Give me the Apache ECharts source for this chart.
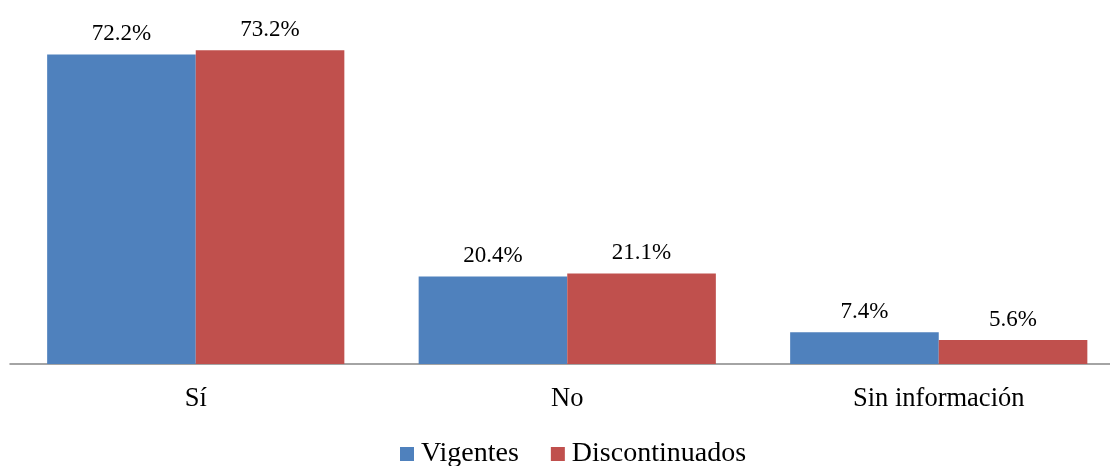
<!DOCTYPE html>
<html><head><meta charset="utf-8">
<script src="https://cdn.jsdelivr.net/npm/echarts@6/dist/echarts.min.js"></script>
<style>html,body{margin:0;padding:0;background:#fff}#c{width:1110px;height:466px}</style>
</head><body><div id="c"></div>
<script>
const categories = ['Sí', 'No', 'Sin información'];
const vigentes = [72.2, 20.4, 7.4];
const discontinuados = [73.2, 21.1, 5.6];
const seriesNames = ['Vigentes', 'Discontinuados'];

const font = '"Liberation Serif", "Times New Roman", serif';
const chart = echarts.init(document.getElementById('c'));
const lbl = {show: true, position: 'top', distance: 9, color: '#000', fontFamily: font, fontSize: 23,
  formatter: p => p.value.toFixed(1) + '%'};
chart.setOption({
  animation: false,
  grid: {left: 10, top: 21, width: 1114.5, height: 343, outerBoundsMode: 'none', containLabel: false},
  legend: {bottom: -7, left: 395, itemWidth: 14, itemHeight: 14, itemGap: 32,
    icon: 'rect',
    textStyle: {fontFamily: font, fontSize: 28, color: '#000', padding: [0,0,0,2]},
    data: seriesNames},
  xAxis: {type: 'category', data: categories,
    axisLine: {lineStyle: {color: '#868686', width: 1.5}},
    axisTick: {show: false},
    axisLabel: {color: '#000', fontFamily: font, fontSize: 26.5, margin: 22}},
  yAxis: {type: 'value', min: 0, max: 80, show: false, splitLine: {show: false}},
  series: [
    {name: seriesNames[0], type: 'bar', data: vigentes, barGap: '0%', barCategoryGap: '20%',
      itemStyle: {color: '#4F81BD'}, label: lbl},
    {name: seriesNames[1], type: 'bar', data: discontinuados, barGap: '0%', barCategoryGap: '20%',
      itemStyle: {color: '#C0504D'}, label: lbl}
  ]
});
</script></body></html>
